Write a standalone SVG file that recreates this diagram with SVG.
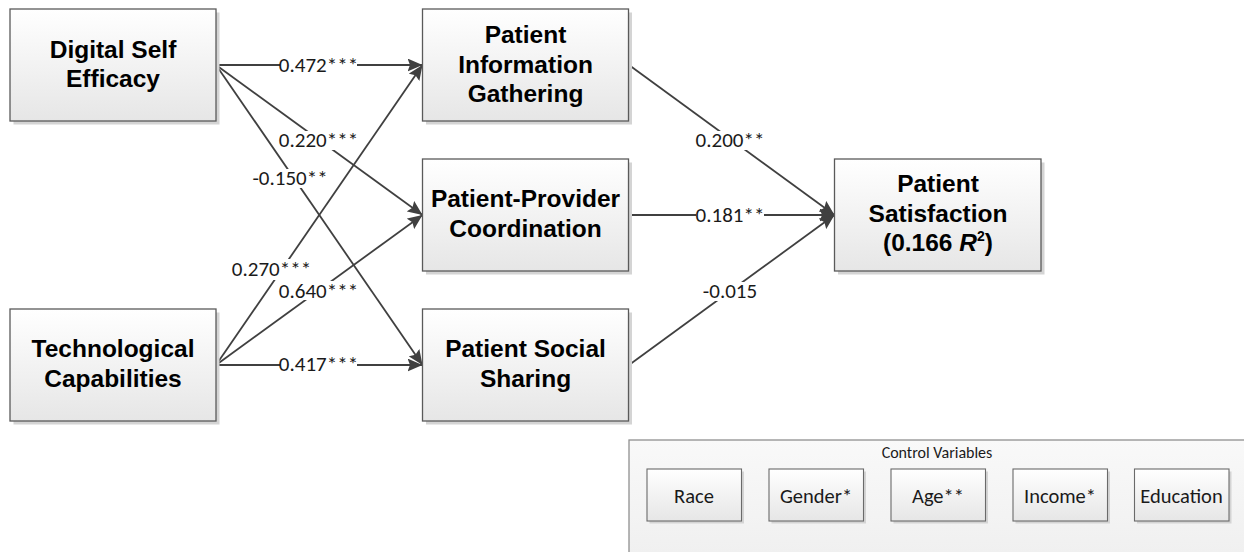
<svg xmlns="http://www.w3.org/2000/svg" width="1244" height="552" viewBox="0 0 1244 552">
  <defs>
    <linearGradient id="boxFill" x1="0" y1="0" x2="0" y2="1">
      <stop offset="0" stop-color="#ffffff"/>
      <stop offset="1" stop-color="#e6e6e6"/>
    </linearGradient>
    <linearGradient id="panelFill" x1="0" y1="0" x2="0" y2="1">
      <stop offset="0" stop-color="#f9f9f9"/>
      <stop offset="1" stop-color="#efefef"/>
    </linearGradient>
    <marker id="arrow" markerUnits="userSpaceOnUse" markerWidth="15" markerHeight="13" refX="15" refY="6.5" orient="auto">
      <path d="M0,0 L15,6.5 L0,13 L2.5,6.5 z" fill="#404040"/>
    </marker>
    <style>
      .shadow { fill: #d4d4d4; }
      .box { fill: url(#boxFill); stroke: #5a5a5a; stroke-width: 1.3; }
      .small { fill: url(#boxFill); stroke: #6a6a6a; stroke-width: 1.1; }
      .panel { fill: url(#panelFill); stroke: #909090; stroke-width: 1.3; }
      .title { font-family: "Liberation Sans", Arial, sans-serif; font-weight: bold; font-size: 24.5px; fill: #000; text-anchor: middle; }
      .lbl { font-family: Carlito, "Liberation Sans", Arial, sans-serif; font-size: 21px; fill: #1a1a1a; text-anchor: middle; }
      .ctl { font-family: Carlito, "Liberation Sans", Arial, sans-serif; font-size: 20.5px; fill: #1a1a1a; text-anchor: middle; }
      .cap { font-family: Carlito, "Liberation Sans", Arial, sans-serif; font-size: 16px; fill: #1a1a1a; text-anchor: middle; }
      .edge { stroke: #404040; stroke-width: 1.8; fill: none; }
      .arr { marker-end: url(#arrow); }
      .bg { fill: #ffffff; }
    </style>
  </defs>

  <rect width="1244" height="552" fill="#ffffff"/>

  <!-- connectors -->
  <g id="connectors">
    <line class="edge arr" x1="216" y1="65" x2="422.5" y2="65"/>
    <line class="edge arr" x1="216" y1="65" x2="422.5" y2="215"/>
    <line class="edge arr" x1="216" y1="65" x2="422.5" y2="365"/>
    <line class="edge arr" x1="216" y1="365" x2="422.5" y2="65"/>
    <line class="edge arr" x1="216" y1="365" x2="422.5" y2="215"/>
    <line class="edge arr" x1="216" y1="365" x2="422.5" y2="365"/>
    <line class="edge arr" x1="629" y1="65" x2="834.5" y2="215"/>
    <line class="edge arr" x1="629" y1="215" x2="834.5" y2="215"/>
    <line class="edge arr" x1="629" y1="365" x2="834.5" y2="215"/>

    <rect class="bg" x="280" y="56" width="77" height="19"/>
    <rect class="bg" x="280" y="131" width="77" height="19"/>
    <rect class="bg" x="253" y="169" width="74" height="19"/>
    <rect class="bg" x="233" y="259" width="77" height="21"/>
    <rect class="bg" x="280" y="281" width="77" height="19"/>
    <rect class="bg" x="280" y="355" width="77" height="19"/>
    <rect class="bg" x="696" y="131" width="68" height="19"/>
    <rect class="bg" x="696" y="206" width="68" height="19"/>
    <rect class="bg" x="703" y="282" width="54" height="19"/>

    <text class="lbl" x="318.5" y="72">0.472***</text>
    <text class="lbl" x="318.5" y="147">0.220***</text>
    <text class="lbl" x="290" y="185">-0.150**</text>
    <text class="lbl" x="271.5" y="275.5">0.270***</text>
    <text class="lbl" x="318.5" y="297.5">0.640***</text>
    <text class="lbl" x="318.5" y="371">0.417***</text>
    <text class="lbl" x="730" y="147">0.200**</text>
    <text class="lbl" x="730" y="222">0.181**</text>
    <text class="lbl" x="730" y="298">-0.015</text>
  </g>

  <!-- predictors -->
  <g id="digital-self-efficacy">
    <rect class="shadow" x="13.5" y="12.5" width="206" height="112"/>
    <rect class="box" x="10" y="9" width="206" height="112"/>
    <text class="title" x="113" y="58">Digital Self</text>
    <text class="title" x="113" y="87">Efficacy</text>
  </g>

  <g id="technological-capabilities">
    <rect class="shadow" x="13.5" y="312.5" width="206" height="112"/>
    <rect class="box" x="10" y="309" width="206" height="112"/>
    <text class="title" x="113" y="357">Technological</text>
    <text class="title" x="113" y="386.5">Capabilities</text>
  </g>

  <!-- mediators -->
  <g id="patient-information-gathering">
    <rect class="shadow" x="426" y="12.5" width="206" height="112"/>
    <rect class="box" x="422.5" y="9" width="206" height="112"/>
    <text class="title" x="525.5" y="43">Patient</text>
    <text class="title" x="525.5" y="72.5">Information</text>
    <text class="title" x="525.5" y="101.5">Gathering</text>
  </g>

  <g id="patient-provider-coordination">
    <rect class="shadow" x="426" y="162.5" width="206" height="112"/>
    <rect class="box" x="422.5" y="159" width="206" height="112"/>
    <text class="title" x="525.5" y="207" font-size="24px">Patient-Provider</text>
    <text class="title" x="525.5" y="236.5">Coordination</text>
  </g>

  <g id="patient-social-sharing">
    <rect class="shadow" x="426" y="312.5" width="206" height="112"/>
    <rect class="box" x="422.5" y="309" width="206" height="112"/>
    <text class="title" x="525.5" y="357">Patient Social</text>
    <text class="title" x="525.5" y="386.5">Sharing</text>
  </g>

  <!-- outcome -->
  <g id="patient-satisfaction">
    <rect class="shadow" x="838" y="162.5" width="206.5" height="112"/>
    <rect class="box" x="834.5" y="159" width="206.5" height="112"/>
    <text class="title" x="938" y="192">Patient</text>
    <text class="title" x="938" y="221.5">Satisfaction</text>
    <text class="title" x="938" y="251">(0.166 <tspan font-style="italic">R</tspan><tspan font-size="14" dy="-10">2</tspan><tspan dy="10">)</tspan></text>
  </g>

  <!-- control variables panel -->
  <g id="control-variables">
    <rect class="panel" x="629" y="440" width="620" height="125"/>
    <text class="cap" x="937" y="458">Control Variables</text>
  </g>

  <g id="race">
    <rect class="shadow" x="649.5" y="471.5" width="94.5" height="52"/>
    <rect class="small" x="647" y="469" width="94.5" height="52"/>
    <text class="ctl" x="694" y="502.5">Race</text>
  </g>
  <g id="gender">
    <rect class="shadow" x="771.5" y="471.5" width="94.5" height="52"/>
    <rect class="small" x="769" y="469" width="94.5" height="52"/>
    <text class="ctl" x="816" y="502.5">Gender*</text>
  </g>
  <g id="age">
    <rect class="shadow" x="893.5" y="471.5" width="94.5" height="52"/>
    <rect class="small" x="891" y="469" width="94.5" height="52"/>
    <text class="ctl" x="938" y="502.5">Age**</text>
  </g>
  <g id="income">
    <rect class="shadow" x="1015.5" y="471.5" width="94.5" height="52"/>
    <rect class="small" x="1013" y="469" width="94.5" height="52"/>
    <text class="ctl" x="1060" y="502.5">Income*</text>
  </g>
  <g id="education">
    <rect class="shadow" x="1137" y="471.5" width="94.5" height="52"/>
    <rect class="small" x="1134.5" y="469" width="94.5" height="52"/>
    <text class="ctl" x="1181.5" y="502.5">Education</text>
  </g>
</svg>
